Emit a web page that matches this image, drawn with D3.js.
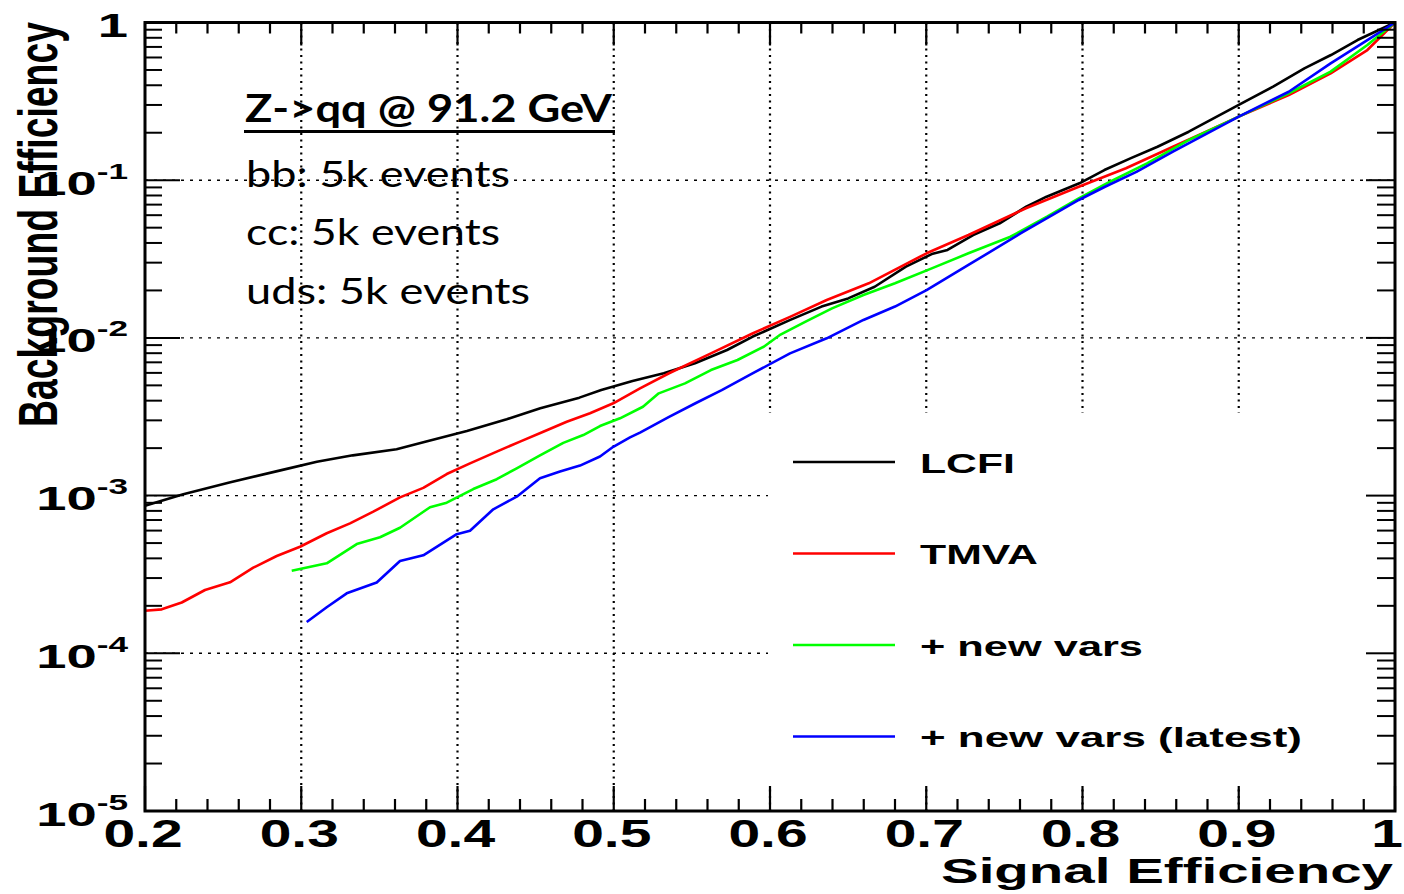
<!DOCTYPE html>
<html><head><meta charset="utf-8">
<script src="https://cdn.jsdelivr.net/npm/d3@7"></script>
<style>body{margin:0;background:#fff}svg{display:block}</style>
</head><body>
<svg id="c" width="1404" height="894"></svg>
<script>
// ---------- data ----------
const lcfiSig = [0.200,0.2245,0.254,0.286,0.310,0.333,0.361,0.380,0.406,0.4315,0.453,0.478,0.492,0.512,0.532,0.552,0.5725,0.589,0.613,0.633,0.650,0.667,0.687,0.7035,0.7136,0.730,0.747,0.764,0.777,0.798,0.814,0.831,0.848,0.868,0.900,0.922,0.942,0.959,0.976,1.0];
const lcfiBkg = [8.63e-4,1.02e-3,1.21e-3,1.44e-3,1.64e-3,1.80e-3,1.97e-3,2.20e-3,2.57e-3,3.05e-3,3.58e-3,4.18e-3,4.67e-3,5.33e-3,5.97e-3,6.90e-3,8.38e-3,1.02e-2,1.30e-2,1.58e-2,1.78e-2,2.11e-2,2.83e-2,3.40e-2,3.61e-2,4.49e-2,5.33e-2,6.79e-2,7.86e-2,9.56e-2,0.116,0.138,0.163,0.203,0.300,0.392,0.512,0.622,0.774,1.0];

const tmvaSig = [0.200,0.2107,0.2235,0.2384,0.2544,0.2693,0.2843,0.2992,0.3163,0.3312,0.3461,0.3632,0.3781,0.3931,0.408,0.4251,0.440,0.4549,0.4699,0.4848,0.4997,0.5168,0.5354,0.5622,0.5891,0.6128,0.6363,0.6632,0.7002,0.727,0.7638,0.7976,0.8278,0.8579,0.8816,0.900,0.932,0.9588,0.9823,1.0];
const tmvaBkg = [1.86e-4,1.90e-4,2.10e-4,2.52e-4,2.82e-4,3.49e-4,4.14e-4,4.74e-4,5.77e-4,6.67e-4,7.91e-4,9.75e-4,1.12e-3,1.37e-3,1.60e-3,1.90e-3,2.20e-3,2.54e-3,2.94e-3,3.33e-3,3.85e-3,4.79e-3,5.97e-3,7.98e-3,1.07e-2,1.36e-2,1.74e-2,2.22e-2,3.44e-2,4.49e-2,6.64e-2,9.09e-2,0.119,0.163,0.208,0.253,0.347,0.476,0.669,1.0];

const newVarsSig = [0.2939,0.3163,0.3355,0.3504,0.3632,0.3824,0.3931,0.4101,0.4251,0.4379,0.4528,0.4677,0.4805,0.4912,0.504,0.5187,0.5288,0.5456,0.5622,0.5792,0.596,0.6061,0.6228,0.6397,0.6598,0.680,0.7035,0.727,0.7539,0.7773,0.7976,0.8176,0.8413,0.8682,0.900,0.932,0.9588,0.9823,1.0];
const newVarsBkg = [3.34e-4,3.72e-4,4.93e-4,5.44e-4,6.25e-4,8.43e-4,9.02e-4,1.10e-3,1.27e-3,1.49e-3,1.80e-3,2.16e-3,2.42e-3,2.76e-3,3.09e-3,3.66e-3,4.45e-3,5.15e-3,6.25e-3,7.24e-3,8.79e-3,1.04e-2,1.27e-2,1.54e-2,1.87e-2,2.22e-2,2.76e-2,3.44e-2,4.38e-2,5.87e-2,7.68e-2,9.78e-2,0.128,0.180,0.253,0.356,0.488,0.720,1.0];

const latestSig = [0.3035,0.3163,0.3291,0.3483,0.3632,0.3781,0.3995,0.408,0.4229,0.4379,0.4528,0.4656,0.4784,0.4912,0.4997,0.5104,0.5168,0.5354,0.5523,0.5691,0.5891,0.6128,0.6363,0.6598,0.680,0.7002,0.727,0.7606,0.7976,0.8144,0.8345,0.8579,0.900,0.932,0.9588,0.9823,1.0];
const latestBkg = [1.58e-4,1.96e-4,2.40e-4,2.81e-4,3.85e-4,4.18e-4,5.69e-4,5.99e-4,8.19e-4,9.84e-4,1.29e-3,1.42e-3,1.55e-3,1.77e-3,2.04e-3,2.34e-3,2.51e-3,3.16e-3,3.85e-3,4.67e-3,5.97e-3,7.98e-3,9.94e-3,1.30e-2,1.58e-2,2.01e-2,2.90e-2,4.61e-2,7.49e-2,9.09e-2,0.113,0.152,0.253,0.364,0.551,0.774,1.0];

const seriesNames = ["LCFI","TMVA","+ new vars","+ new vars (latest)"];
const seriesColors = ["#000000","#ff0000","#00ff00","#0000ff"];
const xTickValues = [0.2,0.3,0.4,0.5,0.6,0.7,0.8,0.9,1.0];
const xTickLabels = ["0.2","0.3","0.4","0.5","0.6","0.7","0.8","0.9","1"];
const yTickValues = [1,1e-1,1e-2,1e-3,1e-4,1e-5];
const yTickExps = ["","-1","-2","-3","-4","-5"];
const xTitle = "Signal Efficiency";
const yTitle = "Background Efficiency";
const noteTitle = "Z->qq @ 91.2 GeV";
const noteLines = ["bb: 5k events","cc: 5k events","uds: 5k events"];

// ---------- layout ----------
const L=145, R=1395, T=22.5, B=811;
const x = d3.scaleLinear().domain([0.2,1.0]).range([L,R]);
const y = d3.scaleLog().domain([1e-5,1]).range([B,T]);
const svg = d3.select("#c");
const F = "'Liberation Sans', Arial, Helvetica, sans-serif";

// grid
const grid = svg.append("g");
xTickValues.slice(1,-1).forEach(v=>{
  grid.append("line").attr("x1",x(v)).attr("x2",x(v)).attr("y1",B).attr("y2",T)
   .attr("stroke","#000").attr("stroke-width",2.2).attr("stroke-dasharray","2,4.5");
});
yTickValues.slice(1,-1).forEach(v=>{
  grid.append("line").attr("x1",L).attr("x2",R).attr("y1",y(v)).attr("y2",y(v))
   .attr("stroke","#000").attr("stroke-width",1.4).attr("stroke-dasharray","3,6");
});

// curves
const sigs=[lcfiSig,tmvaSig,newVarsSig,latestSig];
const bkgs=[lcfiBkg,tmvaBkg,newVarsBkg,latestBkg];
const line = d3.line().x(d=>x(d[0])).y(d=>y(d[1]));
[0,1,2,3].forEach(i=>{
  const pts = sigs[i].map((s,k)=>[s,bkgs[i][k]]);
  svg.append("path").attr("d",line(pts)).attr("fill","none")
   .attr("stroke",seriesColors[i]).attr("stroke-width",2.6).attr("stroke-linejoin","round");
});

// legend box
svg.append("rect").attr("x",768).attr("y",413).attr("width",R-768).attr("height",786-413).attr("fill","#fff");
const legY=[462,553.5,645,736.5];
const legW=[95,118,223,382];
seriesNames.forEach((n,i)=>{
  svg.append("line").attr("x1",793).attr("x2",895).attr("y1",legY[i]).attr("y2",legY[i])
    .attr("stroke",seriesColors[i]).attr("stroke-width",2.6);
  svg.append("text").attr("x",920).attr("y",legY[i]+10.5).attr("font-family",F)
    .attr("font-weight","bold").attr("font-size",28).attr("textLength",legW[i])
    .attr("lengthAdjust","spacingAndGlyphs").text(n);
});

// frame + ticks
const ax = svg.append("g").attr("stroke","#000");
ax.append("rect").attr("x",L).attr("y",T).attr("width",R-L).attr("height",B-T)
  .attr("fill","none").attr("stroke-width",3);
const xMinor = d3.range(0,41).map(k=>0.2+k*0.02);
xMinor.forEach((v,k)=>{
  const major = k%5===0;
  ax.append("line").attr("x1",x(v)).attr("x2",x(v)).attr("y1",B).attr("y2",B-(major?25:12)).attr("stroke-width",2.2);
  ax.append("line").attr("x1",x(v)).attr("x2",x(v)).attr("y1",T).attr("y2",T+(major?23:11)).attr("stroke-width",2.2);
});
y.ticks().forEach(v=>{
  const lg = Math.log10(v);
  const major = Math.abs(lg-Math.round(lg))<1e-9;
  ax.append("line").attr("x1",L).attr("x2",L+(major?35:17)).attr("y1",y(v)).attr("y2",y(v)).attr("stroke-width",2);
  ax.append("line").attr("x1",R).attr("x2",R-(major?29:18)).attr("y1",y(v)).attr("y2",y(v)).attr("stroke-width",2);
});

// x tick labels
xTickValues.forEach((v,i)=>{
  const last = i===xTickValues.length-1;
  svg.append("text").attr("transform",`translate(${last?1403:x(v)-2},847) scale(1.5,1)`)
   .attr("text-anchor",last?"end":"middle").attr("font-family",F).attr("font-weight","bold")
   .attr("font-size",38).text(xTickLabels[i]);
});
// y tick labels
yTickValues.forEach((v,i)=>{
  const t = svg.append("text").attr("transform",`translate(128,${y(v)+14.5}) scale(1.6,1)`)
   .attr("text-anchor","end").attr("font-family",F).attr("font-weight","bold").attr("font-size",34);
  if(yTickExps[i]===""){ t.text("1"); }
  else {
    t.append("tspan").text("10");
    t.append("tspan").attr("font-size",22).attr("dy",-16).text(yTickExps[i]);
  }
});

// axis titles
svg.append("text").attr("x",941).attr("y",883).attr("font-family",F).attr("font-weight","bold")
  .attr("font-size",35).attr("textLength",452).attr("lengthAdjust","spacingAndGlyphs").text(xTitle);
svg.append("text").attr("transform","translate(57,22) rotate(-90) scale(1,1.5)")
  .attr("text-anchor","end").attr("font-family",F).attr("font-weight","bold")
  .attr("font-size",37).attr("textLength",405).attr("lengthAdjust","spacingAndGlyphs").text(yTitle);

// annotation
const NF = "Lato, 'Open Sans', sans-serif";
svg.append("text").attr("x",245).attr("y",122).attr("font-family",NF).attr("font-weight","bold")
  .attr("font-size",38).attr("textLength",367).attr("lengthAdjust","spacingAndGlyphs").text(noteTitle);
svg.append("line").attr("x1",244).attr("x2",615).attr("y1",131.5).attr("y2",131.5).attr("stroke","#000").attr("stroke-width",3);
const noteY=[186.5,245,303.5], noteW=[264,254,284];
noteLines.forEach((s,i)=>{
  svg.append("text").attr("x",246).attr("y",noteY[i]).attr("font-family",NF)
   .attr("font-size",37).attr("textLength",noteW[i]).attr("lengthAdjust","spacingAndGlyphs").text(s);
});
</script>
</body></html>
